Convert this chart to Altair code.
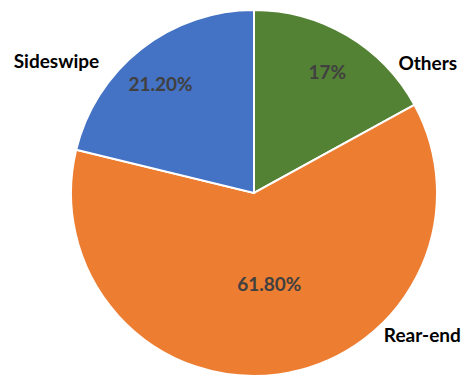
import altair as alt
import pandas as pd

categories = ["Others", "Rear-end", "Sideswipe"]
shares = [17.0, 61.8, 21.2]
pct_labels = ["17%", "61.80%", "21.20%"]
slice_order = [0, 1, 2]
colors = ["#548235", "#ED7D31", "#4472C4"]

df = pd.DataFrame({"category": categories, "share": shares,
                   "pct": pct_labels, "order": slice_order})

tscale = alt.Scale(domain=[0, 100], range=[0, 6.283185307179586])

base = alt.Chart(df).transform_window(
    end="sum(share)", sort=[alt.SortField("order")], frame=[None, 0]
).transform_calculate(
    start="datum.end - datum.share",
    mid="datum.end - datum.share / 2",
)

arc = base.mark_arc(stroke="white", strokeWidth=2).encode(
    theta=alt.Theta("start:Q", scale=tscale),
    theta2="end:Q",
    color=alt.Color("category:N", scale=alt.Scale(domain=categories, range=colors), legend=None),
    order=alt.Order("order:Q"),
)

FONT = "Lato"
SIZE = 19
inner_style = {
    "Others": dict(radius=140, dx=2, dy=1),
    "Rear-end": dict(radius=93, dx=3, dy=0),
    "Sideswipe": dict(radius=140, dx=-7, dy=2),
}
outer_style = {
    "Others": dict(radius=200, dx=72, dy=43),
    "Rear-end": dict(radius=200, dx=142, dy=-55),
    "Sideswipe": dict(radius=200, dx=-74, dy=26),
}

layers = [arc]
for cat in categories:
    s = inner_style[cat]
    layers.append(
        base.transform_filter(alt.datum.category == cat).mark_text(
            font=FONT, fontWeight="bold", fontSize=SIZE, color="#404040",
            baseline="middle", align="center", **s
        ).encode(theta=alt.Theta("mid:Q", scale=tscale), text="pct:N")
    )
    o = outer_style[cat]
    layers.append(
        base.transform_filter(alt.datum.category == cat).mark_text(
            font=FONT, fontWeight="bold", fontSize=SIZE, color="#000000",
            baseline="middle", align="center", **o
        ).encode(theta=alt.Theta("mid:Q", scale=tscale), text="category:N")
    )

chart = alt.layer(*layers).properties(
    width=416, height=366,
    padding={"left": 46, "top": 10, "right": 0, "bottom": 0},
    autosize="none",
    background="white",
).configure_view(stroke=None)

chart.save("out.html", embed_options={"renderer": "svg", "actions": False})
